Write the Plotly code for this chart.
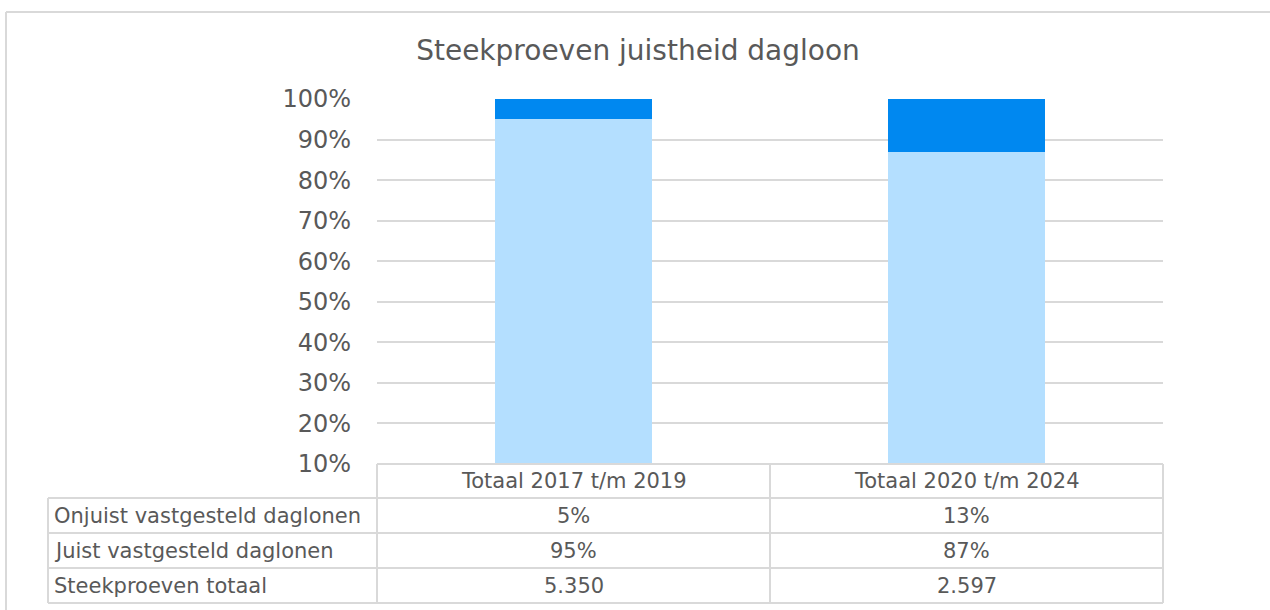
import plotly.graph_objects as go

categories = ["Totaal 2017 t/m 2019", "Totaal 2020 t/m 2024"]
juist = [95, 87]
onjuist = [5, 13]
totaal_labels = ["5.350", "2.597"]
row_names = ["Onjuist vastgesteld daglonen", "Juist vastgesteld daglonen", "Steekproeven totaal"]
tick_vals = [10, 20, 30, 40, 50, 60, 70, 80, 90, 100]
tick_text = [f"{v}%" for v in tick_vals]

W, H = 1270, 610
L, R, T, B = 377, 1163, 99, 464
pw, ph = R - L, B - T
def px(x): return (x - L) / pw
def py(y): return (B - y) / ph

TXT = "#595959"
GRID = "#D9D9D9"
FONT = "DejaVu Sans"
TS = 21

fig = go.Figure()
fig.add_trace(go.Bar(x=categories, y=juist, name=row_names[1], marker_color="#B4DFFF",
                     marker_line_width=0, width=0.4))
fig.add_trace(go.Bar(x=categories, y=onjuist, name=row_names[0], marker_color="#0088F0",
                     marker_line_width=0, width=0.4))

shapes = []
line = dict(color=GRID, width=2)
# outer chart border (top and left visible)
shapes.append(dict(type="line", xref="paper", yref="paper", x0=px(6), x1=px(1300), y0=py(12), y1=py(12), line=line))
shapes.append(dict(type="line", xref="paper", yref="paper", x0=px(6), x1=px(6), y0=py(12), y1=py(640), line=line))
# table
row_edges = [464, 498, 533, 568, 603]
left_x = 48
for i, ry in enumerate(row_edges):
    x0 = L if i == 0 else left_x
    shapes.append(dict(type="line", xref="paper", yref="paper", x0=px(x0), x1=px(R), y0=py(ry), y1=py(ry), line=line))
for vx in [L, (L + R) / 2, R]:
    shapes.append(dict(type="line", xref="paper", yref="paper", x0=px(vx), x1=px(vx), y0=py(464), y1=py(603), line=line))
shapes.append(dict(type="line", xref="paper", yref="paper", x0=px(left_x), x1=px(left_x), y0=py(498), y1=py(603), line=line))

annotations = []
def cy(i): return py((row_edges[i] + row_edges[i + 1]) / 2)
for j, c in enumerate(categories):
    annotations.append(dict(x=c, xref="x", y=cy(0), yref="paper", text=c, showarrow=False,
                            xanchor="center", yanchor="middle",
                            font=dict(size=TS, color=TXT, family=FONT)))
    vals = [f"{onjuist[j]}%", f"{juist[j]}%", totaal_labels[j]]
    for r in range(3):
        annotations.append(dict(x=c, xref="x", y=cy(r + 1), yref="paper", text=vals[r], showarrow=False,
                                xanchor="center", yanchor="middle",
                                font=dict(size=TS, color=TXT, family=FONT)))
for r, name in enumerate(row_names):
    annotations.append(dict(x=px(left_x + 4), xref="paper", xanchor="left", y=cy(r + 1), yref="paper",
                            yanchor="middle", text=name, showarrow=False,
                            font=dict(size=TS, color=TXT, family=FONT)))

fig.update_layout(
    width=W, height=H,
    margin=dict(l=L, r=W - R, t=T, b=H - B),
    paper_bgcolor="white", plot_bgcolor="white",
    barmode="stack", showlegend=False,
    title=dict(text="Steekproeven juistheid dagloon", xref="container", x=638 / W, xanchor="center",
               yref="container", y=1 - 50 / H, yanchor="middle",
               font=dict(size=28, color=TXT, family=FONT)),
    xaxis=dict(showticklabels=False, showgrid=False, zeroline=False, showline=False,
               range=[-0.5, 1.5]),
    yaxis=dict(range=[10, 100], tickvals=tick_vals, ticktext=tick_text, showgrid=True,
               gridcolor=GRID, gridwidth=2, zeroline=False, showline=False,
               tickfont=dict(size=24, color=TXT, family=FONT), ticklabelstandoff=25),
    shapes=shapes, annotations=annotations,
)
fig.write_html("out.html")
